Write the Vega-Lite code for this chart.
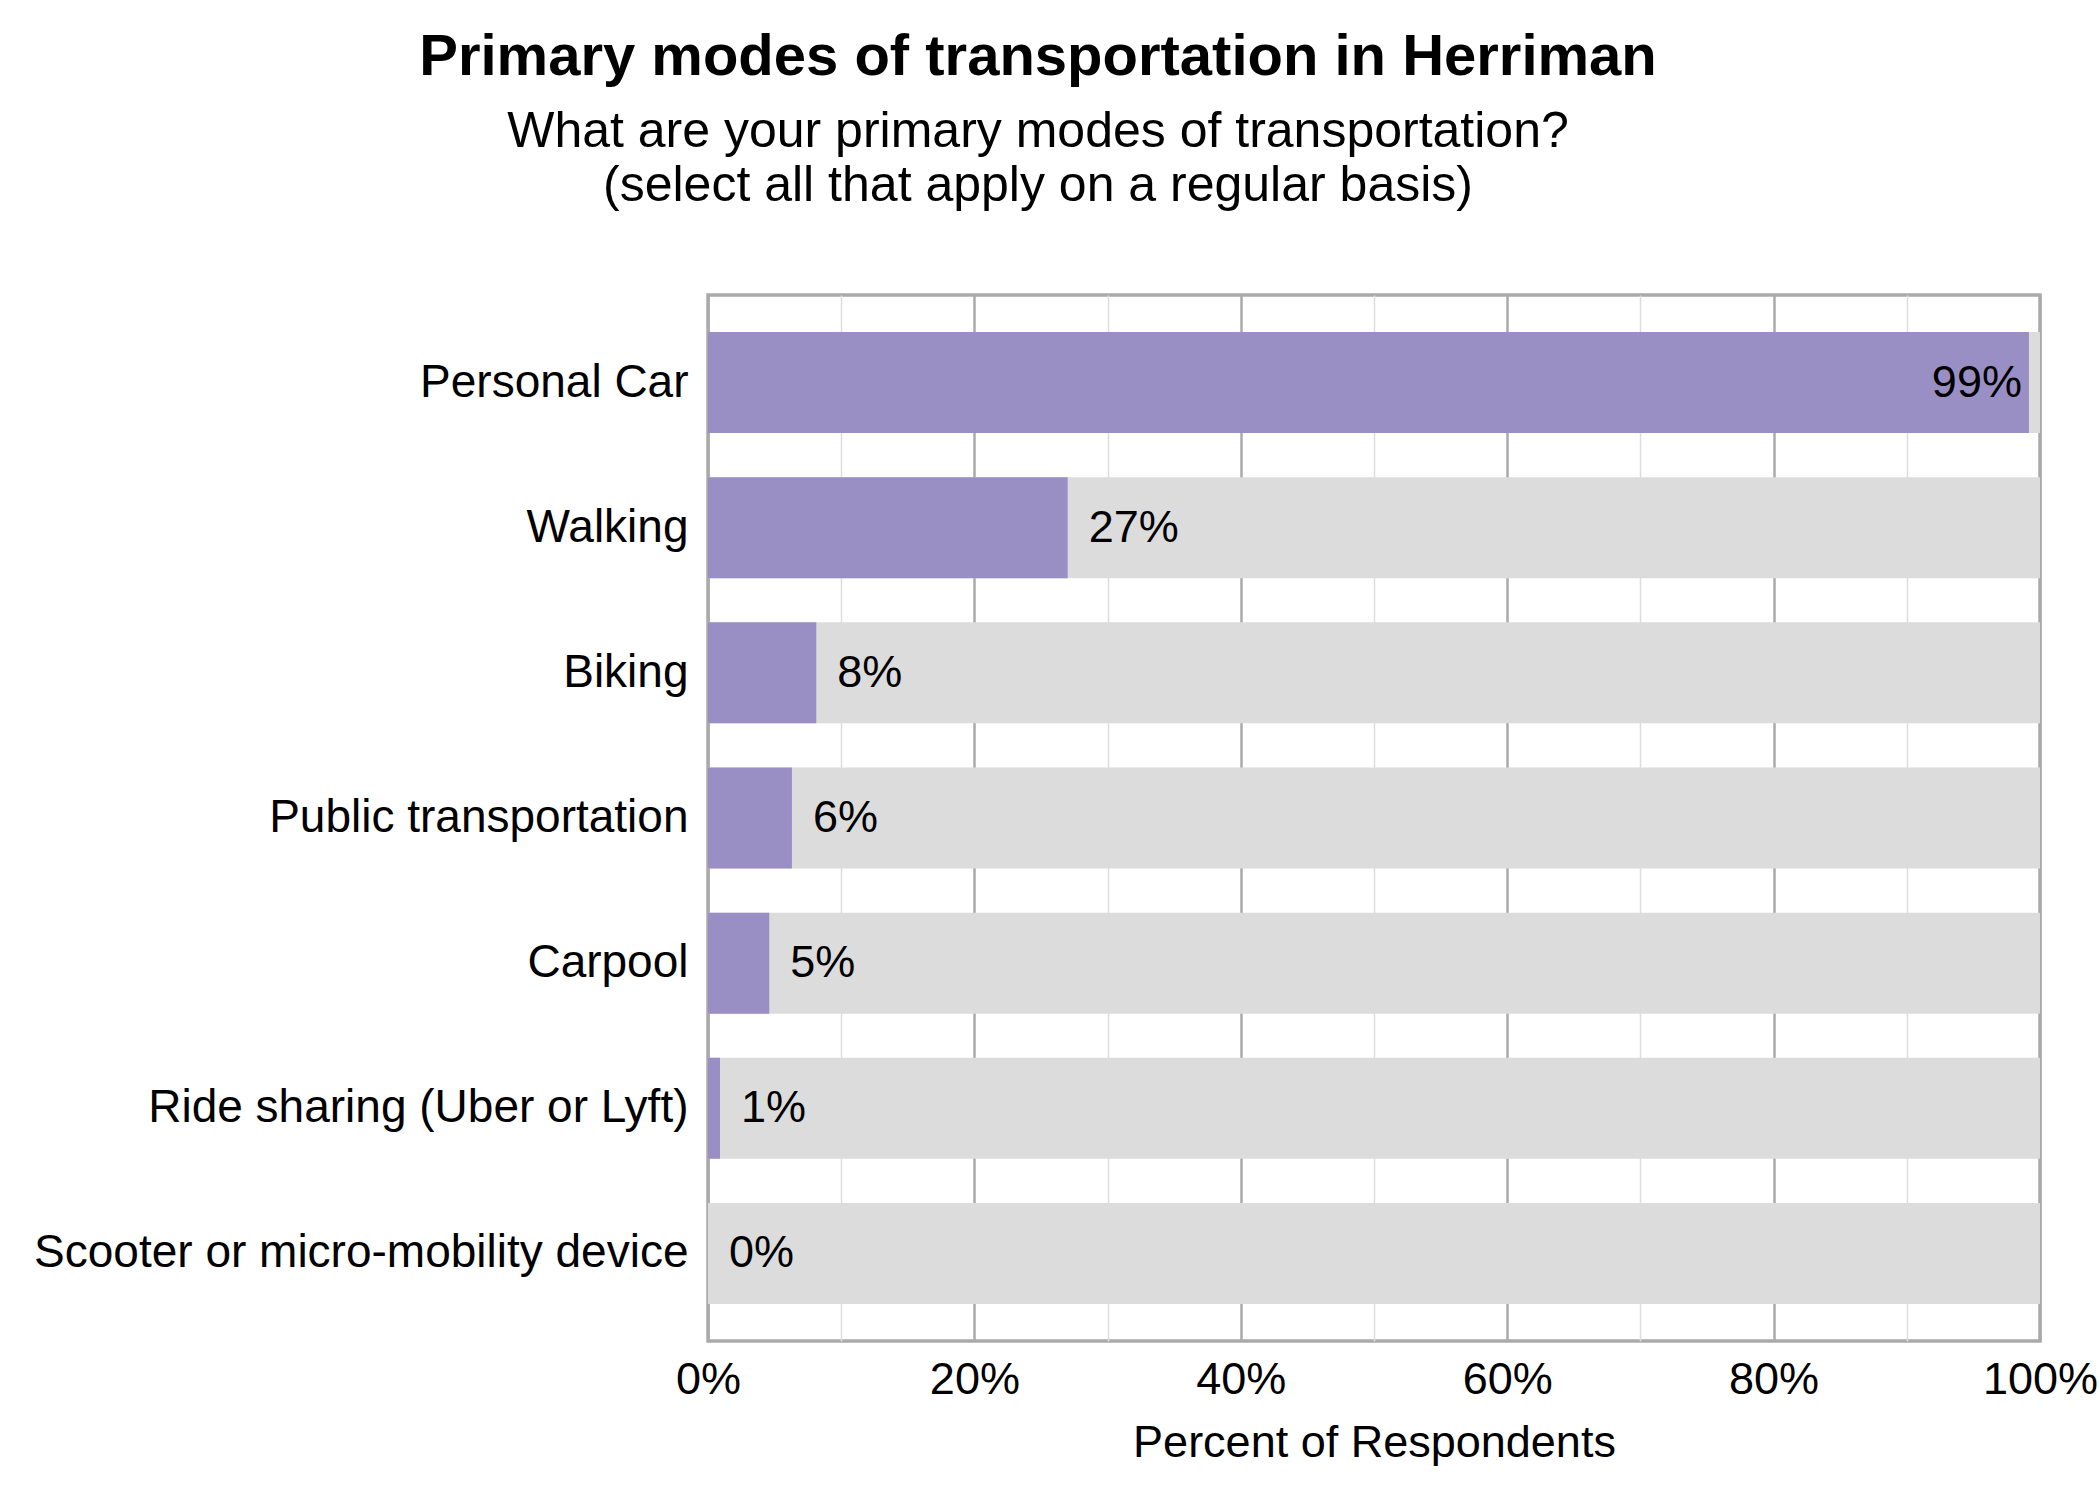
{
  "$schema": "https://vega.github.io/schema/vega-lite/v6.json",
  "description": "Primary modes of transportation in Herriman, share of respondents.",
  "autosize": {"type": "none"},
  "padding": {"left": 708, "top": 295, "right": 60, "bottom": 159},
  "width": 1332,
  "height": 1046,
  "background": "white",
  "config": {
    "font": "Liberation Sans",
    "view": {"stroke": "#aaaaaa", "strokeWidth": 3.5}
  },
  "title": {
    "text": "Primary modes of transportation in Herriman",
    "subtitle": ["What are your primary modes of transportation?", "(select all that apply on a regular basis)"],
    "anchor": "middle",
    "frame": "group",
    "dx": -336,
    "offset": 84,
    "font": "Liberation Sans",
    "fontSize": 58,
    "fontWeight": "bold",
    "color": "black",
    "subtitleFont": "Liberation Sans",
    "subtitleFontSize": 50,
    "subtitleColor": "black",
    "subtitleLineHeight": 54,
    "subtitlePadding": 20
  },
  "data": {
    "values": [
      {"mode": "Personal Car", "share": 0.9917},
      {"mode": "Walking", "share": 0.270},
      {"mode": "Biking", "share": 0.0813},
      {"mode": "Public transportation", "share": 0.063},
      {"mode": "Carpool", "share": 0.046},
      {"mode": "Ride sharing (Uber or Lyft)", "share": 0.009},
      {"mode": "Scooter or micro-mobility device", "share": 0}
    ]
  },
  "encoding": {
    "y": {
      "field": "mode",
      "type": "nominal",
      "sort": null,
      "scale": {"paddingInner": 0.304, "paddingOuter": 0.255},
      "axis": {
        "title": null,
        "domain": false,
        "ticks": false,
        "grid": false,
        "labelFontSize": 46,
        "labelColor": "black",
        "labelPadding": 20,
        "labelLimit": 1000
      }
    }
  },
  "layer": [
    {
      "mark": {"type": "bar", "color": "#dcdcdc"},
      "encoding": {
        "x": {
          "datum": 1,
          "type": "quantitative",
          "scale": {"domain": [0, 1], "nice": false},
          "axis": {
            "title": "Percent of Respondents",
            "values": [0, 0.1, 0.2, 0.3, 0.4, 0.5, 0.6, 0.7, 0.8, 0.9, 1],
            "format": ".0%",
            "labelExpr": "round(datum.value * 100) % 20 === 0 ? datum.label : ''",
            "labelFlush": false,
            "labelFontSize": 45,
            "labelColor": "black",
            "labelPadding": 16,
            "titleFontSize": 45,
            "titleFontWeight": "normal",
            "titleColor": "black",
            "titlePadding": 18,
            "domain": false,
            "ticks": false,
            "grid": true,
            "gridColor": {
              "condition": {"test": "round(datum.value * 100) % 20 === 0", "value": "#aaaaaa"},
              "value": "#dddddd"
            },
            "gridWidth": {
              "condition": {"test": "round(datum.value * 100) % 20 === 0", "value": 2.5},
              "value": 1.5
            }
          }
        }
      }
    },
    {
      "mark": {"type": "bar", "color": "#998fc4"},
      "encoding": {
        "x": {"field": "share", "type": "quantitative"}
      }
    },
    {
      "transform": [{"filter": "datum.share < 0.9"}],
      "mark": {"type": "text", "align": "left", "baseline": "middle", "dx": 21, "fontSize": 45, "color": "black"},
      "encoding": {
        "x": {"field": "share", "type": "quantitative"},
        "text": {"field": "share", "type": "quantitative", "format": ".0%"}
      }
    },
    {
      "transform": [{"filter": "datum.share >= 0.9"}],
      "mark": {"type": "text", "align": "right", "baseline": "middle", "dx": -7, "fontSize": 45, "color": "black"},
      "encoding": {
        "x": {"field": "share", "type": "quantitative"},
        "text": {"field": "share", "type": "quantitative", "format": ".0%"}
      }
    }
  ]
}
